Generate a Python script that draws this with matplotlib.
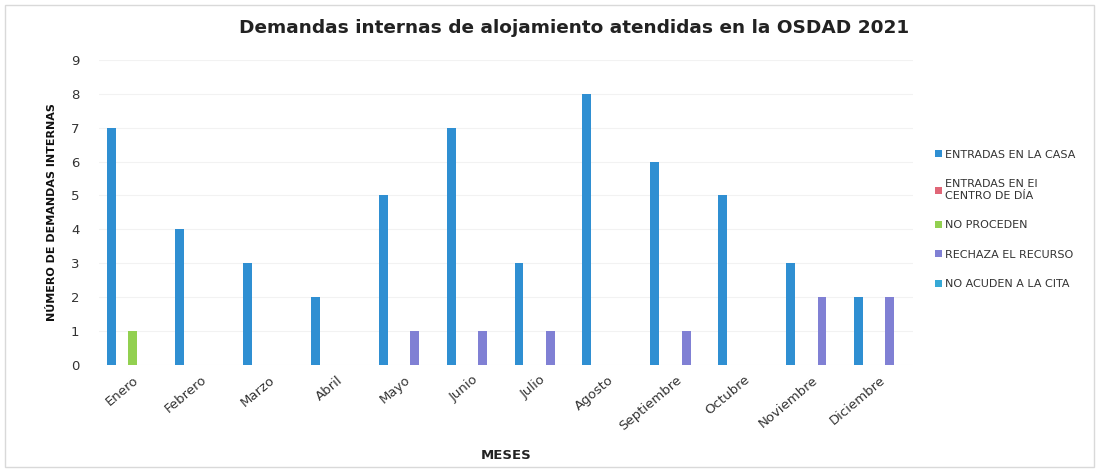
import numpy as np
import matplotlib.pyplot as plt
from matplotlib.patches import Rectangle

meses = ["Enero", "Febrero", "Marzo", "Abril", "Mayo", "Junio", "Julio",
         "Agosto", "Septiembre", "Octubre", "Noviembre", "Diciembre"]

entradas_casa = [7, 4, 3, 2, 5, 7, 3, 8, 6, 5, 3, 2]
entradas_centro = [0, 0, 0, 0, 0, 0, 0, 0, 0, 0, 0, 0]
no_proceden = [1, 0, 0, 0, 0, 0, 0, 0, 0, 0, 0, 0]
rechaza = [0, 0, 0, 0, 1, 1, 1, 0, 1, 0, 2, 2]
no_acuden = [0, 0, 0, 0, 0, 0, 0, 0, 0, 0, 0, 0]

series = [
    ("ENTRADAS EN LA CASA", entradas_casa, "#2f8fd2"),
    ("ENTRADAS EN EI\nCENTRO DE DÍA", entradas_centro, "#e06677"),
    ("NO PROCEDEN", no_proceden, "#92d050"),
    ("RECHAZA EL RECURSO", rechaza, "#8080d4"),
    ("NO ACUDEN A LA CITA", no_acuden, "#36a9d6"),
]

fig = plt.figure(figsize=(10.99, 4.72), dpi=100)
ax = fig.add_axes([0.09, 0.227, 0.741, 0.646])

x = np.arange(len(meses))
step = 0.155
width = 0.13
for i, (name, vals, col) in enumerate(series):
    ax.bar(x + (i - 2) * step, vals, width, color=col, label=name, zorder=3)

ax.set_xlim(-0.5, len(meses) - 0.5)
ax.set_ylim(0, 9)
ax.set_yticks(range(10))
ax.tick_params(axis="y", length=0, labelsize=9.5, colors="#333333", pad=14)
ax.set_xticks(x)
ax.set_xticklabels(meses, rotation=40, ha="right", rotation_mode="anchor",
                   fontsize=9.5, color="#333333")
ax.tick_params(axis="x", length=0, pad=6)
for s in ax.spines.values():
    s.set_visible(False)
ax.yaxis.grid(True, color="#f2f2f2", lw=0.8, zorder=0)

ax.set_ylabel("NÚMERO DE DEMANDAS INTERNAS", fontsize=8, fontweight="bold",
              color="#111111", labelpad=10)
ax.set_xlabel("MESES", fontsize=9.5, fontweight="bold", color="#222222", labelpad=12)

fig.text(0.522, 0.94, "Demandas internas de alojamiento atendidas en la OSDAD 2021",
         ha="center", va="center", fontsize=13.3, fontweight="bold", color="#222222")

fig.legend(loc="center left", bbox_to_anchor=(0.842, 0.535), frameon=False,
           fontsize=8, labelspacing=1.75, handlelength=0.6, handleheight=0.6,
           handletextpad=0.3, labelcolor="#333333")

fig.patches.append(Rectangle((0.005, 0.01), 0.99, 0.98, transform=fig.transFigure,
                             fill=False, edgecolor="#d9d9d9", lw=1))

fig.savefig("out.png", dpi=100)
